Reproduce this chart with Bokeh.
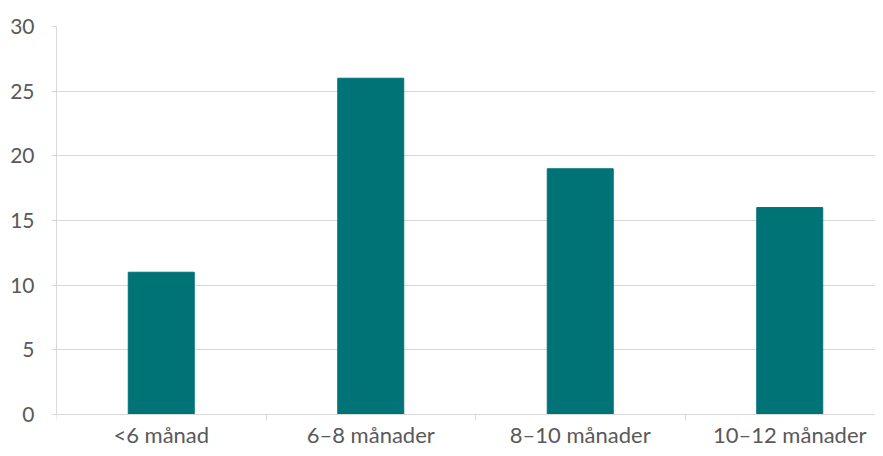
from bokeh.plotting import figure
from bokeh.models import ColumnDataSource, FixedTicker, Range1d
from bokeh.embed import file_html
from bokeh.resources import INLINE

categories = ["<6 månad", "6–8 månader", "8–10 månader", "10–12 månader"]
values = [11, 26, 19, 16]
y_ticks = [0, 5, 10, 15, 20, 25, 30]

centers = [i + 0.5 for i in range(len(categories))]
source = ColumnDataSource(dict(x=centers, top=values, label=categories))

px_per_unit = 388 / 30.0

p = figure(width=875, height=448, output_backend="svg", toolbar_location=None,
           x_range=Range1d(0, 819 / 209.5), y_range=Range1d(-34 / px_per_unit, 30),
           min_border_left=56, min_border_right=0, min_border_top=26, min_border_bottom=0)
p.outline_line_color = None
p.background_fill_color = "white"

p.vbar(x="x", top="top", width=0.315, source=source, color="#007377")

font = "Lato"
lab_color = "#595959"

xa = p.xaxis[0]
xa.fixed_location = 0
xa.ticker = FixedTicker(ticks=centers, minor_ticks=[0, 1, 2, 3])
xa.major_label_overrides = {c: l for c, l in zip(centers, categories)}
xa.major_tick_line_color = None
xa.major_tick_out = 0
xa.major_tick_in = 0
xa.minor_tick_line_color = "#d9d9d9"
xa.minor_tick_out = 6
xa.minor_tick_in = 0
xa.axis_line_color = "#d9d9d9"
xa.major_label_text_font = font
xa.major_label_text_font_size = "22px"
xa.major_label_text_color = lab_color
xa.major_label_standoff = 0

ya = p.yaxis[0]
ya.bounds = (0, 30)
ya.ticker = FixedTicker(ticks=y_ticks)
ya.minor_tick_line_color = None
ya.major_tick_line_color = "#d9d9d9"
ya.major_tick_out = 5
ya.major_tick_in = 0
ya.axis_line_color = "#d9d9d9"
ya.major_label_text_font = font
ya.major_label_text_font_size = "21px"
ya.major_label_text_color = lab_color
ya.major_label_standoff = 17

p.xgrid.grid_line_color = None
p.ygrid.grid_line_color = "#d9d9d9"
p.ygrid.ticker = FixedTicker(ticks=y_ticks)

open("out.html", "w").write(file_html(p, INLINE))
